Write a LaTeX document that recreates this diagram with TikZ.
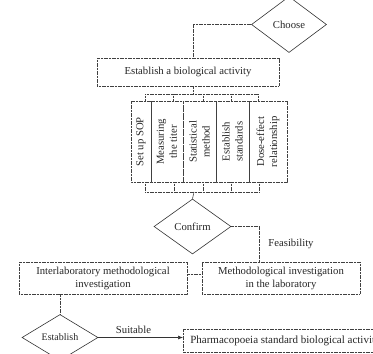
\documentclass[tikz,border=0pt]{standalone}
\usepackage{fontspec}
\setmainfont{Liberation Serif}
\usetikzlibrary{shapes.geometric,arrows.meta}
\begin{document}
\begin{tikzpicture}[x=1pt,y=-1pt,
  every node/.style={font=\fontsize{10.7}{13}\selectfont, text=black!85},
  ln/.style={draw=black!75, line width=0.65pt, dash pattern=on 1.2pt off 0.4pt},
  boxr/.style={ln, rectangle, inner sep=0pt, align=center},
  dia/.style={draw=black!80, line width=0.6pt, diamond, inner sep=0pt},
  colbox/.style={boxr, rotate=90, minimum width=80.5pt}
]
\useasboundingbox (0,0) rectangle (373,354);
\begin{scope}
\clip (0,0) rectangle (373,354);
% nodes
\node[dia, minimum width=75pt, minimum height=56pt] (choose) at (289,24.5) {Choose};
\node[boxr, minimum width=182pt, minimum height=28pt] (est) at (188,72) {Establish a biological activity};
\node[colbox, minimum height=20pt] (c1) at (141,141.75) {Set up SOP};
\node[colbox, minimum height=32pt] (c2) at (167,141.75) {Measuring\\the titer};
\node[colbox, minimum height=33pt] (c3) at (199.5,141.75) {Statistical\\method};
\node[colbox, minimum height=33pt] (c4) at (232.5,141.75) {Establish\\standards};
\node[colbox, minimum height=38pt] (c5) at (268,141.75) {Dose-effect\\relationship};
\node[dia, minimum width=77pt, minimum height=55pt] (confirm) at (192.5,226.5) {Confirm};
\node (feas) at (291,244) {Feasibility};
\node[boxr, minimum width=168pt, minimum height=32pt] (inter) at (103,278) {Interlaboratory methodological\\investigation};
\node[boxr, minimum width=158pt, minimum height=32pt] (meth) at (281,278) {Methodological investigation\\in the laboratory};
\node[dia, minimum width=76pt, minimum height=46pt, font=\fontsize{10}{12}\selectfont] (estab) at (60,337.5) {Establish};
\node[boxr, anchor=west, minimum height=23pt, inner xsep=7pt, font=\fontsize{11}{13}\selectfont] (pharma) at (183,340.5) {Pharmacopoeia standard biological activity};
\node (suit) at (133.5,329.5) {Suitable};
% coordinates
\coordinate (tb) at (193,94);
\coordinate (bb) at (194,192);
\coordinate (cr) at (259,226.5);
% connectors
\draw[ln] (choose.west) -| (est.north -| tb);
\draw[ln] (est.south -| tb) -- (tb);
\draw[ln] (145,94) -- (258,94);
\foreach \x in {145,173,203,231,258} \draw[ln] (\x,94) -- (\x,101.5);
\foreach \x in {145,174,203,231,259} \draw[ln] (\x,182) -- (\x,192);
\draw[ln] (145,192) -- (259,192);
\draw[ln] (bb) -- (confirm.north);
\draw[ln] (confirm.east) -- (cr) -- (meth.north -| cr);
\draw[ln] (inter.east |- 0,274) -- (meth.west |- 0,274);
\draw[ln] (inter.south -| estab) -- (estab.north);
\draw[draw=black!80, line width=0.6pt, -{Latex[length=5pt,width=4pt]}] (estab.east) -- (pharma.west |- estab.east);
\end{scope}
\end{tikzpicture}
\end{document}
